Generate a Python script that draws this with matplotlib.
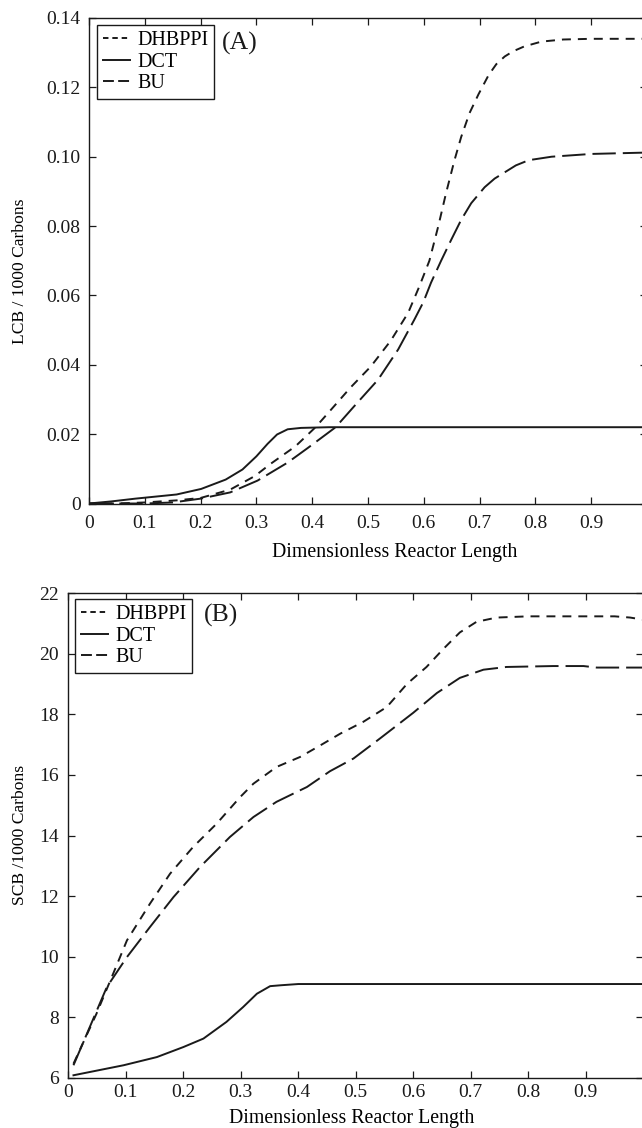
import matplotlib
matplotlib.use("Agg")
import matplotlib.pyplot as plt
from matplotlib.lines import Line2D

plt.rcParams['font.family'] = ['Liberation Serif', 'DejaVu Serif']

# ---------------- Panel A data (LCB / 1000 Carbons) ----------------
a_dhb_x = [0, 0.05, 0.1, 0.157, 0.2, 0.253, 0.297, 0.326, 0.37, 0.406, 0.428, 0.469, 0.505,
           0.541, 0.572, 0.592, 0.61, 0.626, 0.64, 0.655, 0.667, 0.682, 0.698, 0.716, 0.73,
           0.745, 0.76, 0.78, 0.811, 0.85, 0.9, 0.95, 1.0]
a_dhb_y = [0, 0, 0.0003, 0.0009, 0.0016, 0.004, 0.0079, 0.0115, 0.0165, 0.022, 0.026, 0.0335,
           0.0395, 0.047, 0.055, 0.0626, 0.070, 0.080, 0.0896, 0.099, 0.1057, 0.1126, 0.118,
           0.1235, 0.1267, 0.1289, 0.1304, 0.1318, 0.1332, 0.1338, 0.134, 0.134, 0.134]

a_dct_x = [0, 0.04, 0.083, 0.12, 0.157, 0.201, 0.245, 0.275, 0.30, 0.32, 0.337, 0.356, 0.38,
           0.43, 0.6, 0.8, 1.0]
a_dct_y = [0, 0.0006, 0.0014, 0.002, 0.0026, 0.0042, 0.0069, 0.0098, 0.0136, 0.0172, 0.0199,
           0.0214, 0.0218, 0.022, 0.022, 0.022, 0.022]

a_bu_x = [0, 0.1, 0.15, 0.2, 0.253, 0.302, 0.356, 0.392, 0.442, 0.475, 0.518, 0.554, 0.583,
          0.599, 0.613, 0.631, 0.649, 0.667, 0.685, 0.709, 0.727, 0.745, 0.765, 0.788, 0.829,
          0.9, 1.0]
a_bu_y = [0, 0, 0.0003, 0.0014, 0.0032, 0.0066, 0.0118, 0.016, 0.022, 0.028, 0.0357, 0.0444,
          0.053, 0.058, 0.0637, 0.070, 0.076, 0.0818, 0.0866, 0.0912, 0.0937, 0.0955, 0.0975,
          0.099, 0.100, 0.1008, 0.1012]

# ---------------- Panel B data (SCB / 1000 Carbons) ----------------
b_dhb_x = [0.009, 0.049, 0.078, 0.102, 0.142, 0.177, 0.217, 0.258, 0.299, 0.322, 0.362, 0.403,
           0.438, 0.473, 0.513, 0.554, 0.589, 0.623, 0.652, 0.681, 0.710, 0.745, 0.8, 0.9,
           0.95, 0.977, 1.0]
b_dhb_y = [6.47, 8.12, 9.44, 10.54, 11.75, 12.74, 13.62, 14.39, 15.27, 15.71, 16.26, 16.59,
           16.97, 17.36, 17.75, 18.24, 19.0, 19.56, 20.15, 20.7, 21.05, 21.19, 21.23, 21.23,
           21.23, 21.19, 21.12]

b_dct_x = [0.009, 0.096, 0.154, 0.2, 0.235, 0.275, 0.304, 0.328, 0.351, 0.37, 0.4, 0.6, 0.8, 1.0]
b_dct_y = [6.09, 6.42, 6.69, 7.02, 7.30, 7.85, 8.34, 8.78, 9.03, 9.06, 9.1, 9.1, 9.1, 9.1]

b_bu_x = [0.009, 0.067, 0.102, 0.142, 0.183, 0.229, 0.281, 0.322, 0.362, 0.415, 0.455, 0.496,
          0.542, 0.6, 0.641, 0.681, 0.722, 0.762, 0.843, 0.896, 0.919, 1.0]
b_bu_y = [6.42, 9.0, 9.99, 10.98, 11.97, 12.96, 13.95, 14.61, 15.11, 15.60, 16.12, 16.54,
          17.2, 18.05, 18.7, 19.2, 19.47, 19.56, 19.59, 19.59, 19.54, 19.54]

series_names = ['DHBPPI', 'DCT', 'BU']

x_ticks = [0, 0.1, 0.2, 0.3, 0.4, 0.5, 0.6, 0.7, 0.8, 0.9]
x_tick_labels = ['0', '0.1', '0.2', '0.3', '0.4', '0.5', '0.6', '0.7', '0.8', '0.9']
a_y_ticks = [0, 0.02, 0.04, 0.06, 0.08, 0.10, 0.12, 0.14]
a_y_tick_labels = ['0', '0.02', '0.04', '0.06', '0.08', '0.10', '0.12', '0.14']
b_y_ticks = [6, 8, 10, 12, 14, 16, 18, 20, 22]
b_y_tick_labels = ['6', '8', '10', '12', '14', '16', '18', '20', '22']

W, H = 642, 1128
fig = plt.figure(figsize=(W / 100, H / 100), dpi=100)

def rect(l, r, t, b):
    return [l / W, 1 - b / H, (r - l) / W, (b - t) / H]

axA = fig.add_axes(rect(89, 647, 18, 503.5))
axB = fig.add_axes(rect(68.3, 643.3, 593, 1078))

ink = '#1a1a1a'
lw = 1.4
sty_dhb = (0, (4.6, 3.6))
sty_bu = (0, (12, 3.6))
leg_dhb = (0, (2.8, 2.0))
leg_bu = (0, (5.6, 2.2))

def draw(ax, dx, dy, cx, cy, ux, uy):
    ax.plot(dx, dy, color=ink, lw=lw, ls=sty_dhb)
    ax.plot(cx, cy, color=ink, lw=lw, ls='-')
    ax.plot(ux, uy, color=ink, lw=lw, ls=sty_bu)

draw(axA, a_dhb_x, a_dhb_y, a_dct_x, a_dct_y, a_bu_x, a_bu_y)
draw(axB, b_dhb_x, b_dhb_y, b_dct_x, b_dct_y, b_bu_x, b_bu_y)

axA.set_xlim(0, 1)
axA.set_ylim(0, 0.14)
axB.set_xlim(0, 1)
axB.set_ylim(6, 22)

for ax, yt, ytl in [(axA, a_y_ticks, a_y_tick_labels), (axB, b_y_ticks, b_y_tick_labels)]:
    ax.set_xticks(x_ticks)
    ax.set_xticklabels(x_tick_labels)
    ax.set_yticks(yt)
    ax.set_yticklabels(ytl)
    ax.tick_params(direction='in', top=True, right=True, length=5, width=0.9,
                   labelsize=14, colors=ink)
    for s in ax.spines.values():
        s.set_linewidth(1.0)
        s.set_color(ink)

axA.tick_params(axis='x', pad=8)
axA.tick_params(axis='y', pad=6)
axB.tick_params(axis='x', pad=4)
axB.tick_params(axis='y', pad=7)

axA.set_xlabel('Dimensionless Reactor Length', fontsize=14.3, va='center')
axA.xaxis.set_label_coords(0.548, (503.5 - 553) / 485.5)
axB.set_xlabel('Dimensionless Reactor Length', fontsize=14.3, va='center')
axB.xaxis.set_label_coords(0.493, (1078 - 1118) / 485)

axA.set_ylabel('LCB / 1000 Carbons', fontsize=12.6, va='center')
axA.yaxis.set_label_coords((20 - 89) / 558, (503.5 - 271) / 485.5)
axB.set_ylabel('SCB /1000 Carbons', fontsize=12.6, va='center')
axB.yaxis.set_label_coords((20 - 68.3) / 575, (1078 - 835) / 485)

def handles():
    return [Line2D([], [], color=ink, lw=lw, ls=leg_dhb),
            Line2D([], [], color=ink, lw=lw, ls='-'),
            Line2D([], [], color=ink, lw=lw, ls=leg_bu)]

legkw = dict(loc='upper left', fontsize=14.5, frameon=True, fancybox=False,
             borderaxespad=0, handlelength=1.35, handletextpad=0.35,
             labelspacing=0.12, borderpad=0.3)
legA = axA.legend(handles(), series_names,
                  bbox_to_anchor=((97 - 89) / 558, (503.5 - 25) / 485.5), **legkw)
legB = axB.legend(handles(), series_names,
                  bbox_to_anchor=((75 - 68.3) / 575, (1078 - 599) / 485), **legkw)
for leg in (legA, legB):
    fr = leg.get_frame()
    fr.set_edgecolor(ink)
    fr.set_linewidth(1.0)
    fr.set_alpha(1)

axA.text((222 - 89) / 558, (503.5 - 43) / 485.5, '(A)', transform=axA.transAxes,
         fontsize=18.5, va='center', ha='left', color=ink)
axB.text((204 - 68.3) / 575, (1078 - 615) / 485, '(B)', transform=axB.transAxes,
         fontsize=18.5, va='center', ha='left', color=ink)

fig.savefig('out.png', dpi=100)
